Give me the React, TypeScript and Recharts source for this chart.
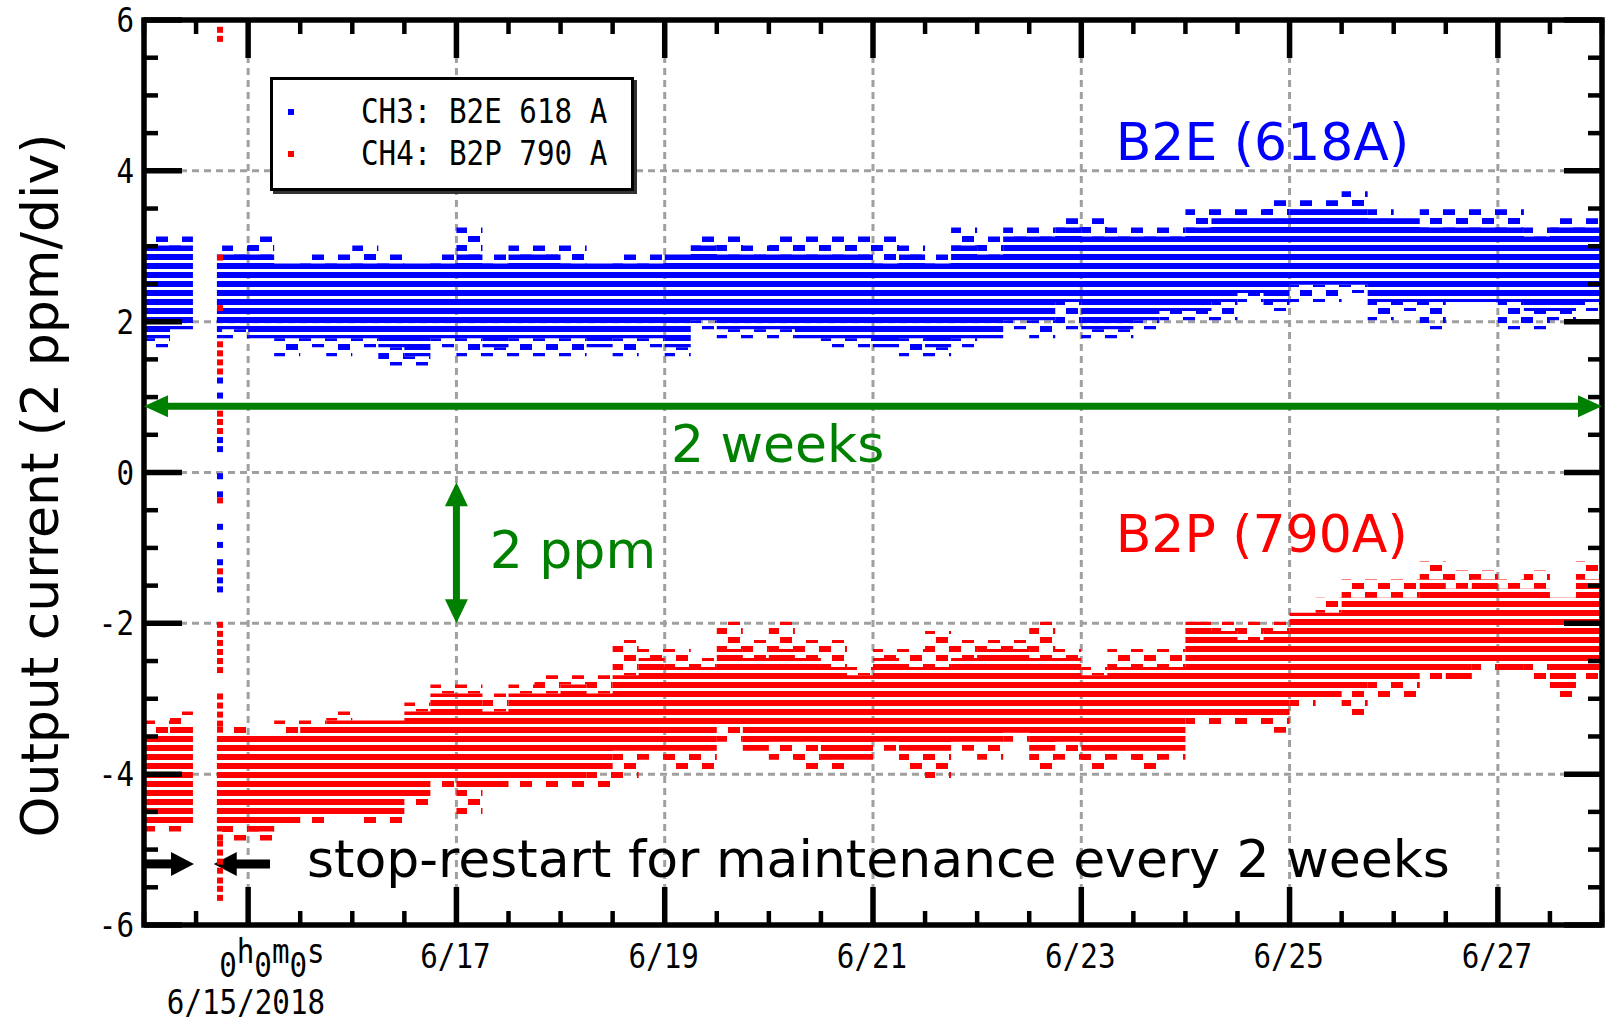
import React from 'react';
import {
  ComposedChart, Area, Scatter, XAxis, YAxis, CartesianGrid,
  ReferenceLine, ReferenceArea, ReferenceDot, Legend,
} from 'recharts';

// ---------- layout ----------
const CHART_W = 1606;
const CHART_H = 1021;
const PLOT_TOP = 20;
const X_AXIS_H = 96;
const Y_AXIS_W = 144;
const RIGHT_GAP = 4;
const PLOT_BOTTOM = CHART_H - X_AXIS_H;
const PLOT_RIGHT = CHART_W - RIGHT_GAP;

const BLUE = '#0000ff';
const RED = '#ff0000';
const GREEN = '#008000';
const GRID = '#a0a0a0';
const MONO = "'DejaVu Sans Mono', 'Liberation Mono', monospace";
const SANS = "'DejaVu Sans', Verdana, sans-serif";
const ROW_HALF = 0.04; // half height of one plotted sample (ppm)

// ---------- axes ----------
const X_DOMAIN = [0, 14];
const Y_DOMAIN = [-6, 6];
const X_TICKS = [0, 0.5, 1, 1.5, 2, 2.5, 3, 3.5, 4, 4.5, 5, 5.5, 6, 6.5, 7, 7.5, 8, 8.5, 9, 9.5, 10, 10.5, 11, 11.5, 12, 12.5, 13, 13.5, 14];
const X_MAJOR = [1, 3, 5, 7, 9, 11, 13];
const X_MAJOR_LABELS = ['6/15/2018', '6/17', '6/19', '6/21', '6/23', '6/25', '6/27'];
const Y_TICKS = [-6, -5.5, -5, -4.5, -4, -3.5, -3, -2.5, -2, -1.5, -1, -0.5, 0, 0.5, 1, 1.5, 2, 2.5, 3, 3.5, 4, 4.5, 5, 5.5, 6];
const Y_MAJOR = [-6, -4, -2, 0, 2, 4, 6];
const GRID_X = [1, 3, 5, 7, 9, 11, 13];
const GRID_Y = [-4, -2, 0, 2, 4];

// ---------- data (days since 6/14 0h; values in ppm) ----------
const DAYS = [0, 0.25, 0.47, 0.58, 0.7, 0.75, 1, 1.25, 1.5, 1.75, 2, 2.25, 2.5, 2.75, 3, 3.25, 3.5, 3.75, 4, 4.25, 4.5, 4.75, 5, 5.25, 5.5, 5.75, 6, 6.25, 6.5, 6.75, 7, 7.25, 7.5, 7.75, 8, 8.25, 8.5, 8.75, 9, 9.25, 9.5, 9.75, 10, 10.25, 10.5, 10.75, 11, 11.25, 11.5, 11.75, 12, 12.25, 12.5, 12.75, 13, 13.25, 13.5, 13.75, 14];

const B2E_OUTER_HI = [3.09, 3.09, 3.09, null,
  2.85, 2.97, 3.09, 2.73, 2.85, 2.85, 2.97, 2.85, 2.73, 2.85,
  3.21, 2.85, 2.97, 2.97, 2.97, 2.73, 2.85, 2.85, 2.85, 3.09,
  3.09, 2.97, 3.09, 3.09, 3.09, 3.09, 3.09, 2.97, 2.85, 3.21,
  3.09, 3.21, 3.21, 3.33, 3.33, 3.21, 3.21, 3.21, 3.45, 3.45,
  3.45, 3.57, 3.57, 3.57, 3.69, 3.45, 3.33, 3.45, 3.45, 3.45,
  3.45, 3.21, 3.33, 3.33, 3.33];
const B2E_CORE_HI = [2.97, 2.97, 2.97, null,
  2.85, 2.85, 2.85, 2.73, 2.73, 2.73, 2.73, 2.73, 2.73, 2.73,
  2.85, 2.73, 2.85, 2.85, 2.73, 2.73, 2.73, 2.73, 2.85, 2.97,
  2.85, 2.85, 2.85, 2.85, 2.85, 2.85, 2.73, 2.85, 2.73, 2.97,
  2.85, 3.09, 3.09, 3.21, 3.09, 3.09, 3.09, 3.09, 3.21, 3.33,
  3.33, 3.33, 3.45, 3.45, 3.45, 3.33, 3.33, 3.21, 3.21, 3.21,
  3.21, 3.09, 3.21, 3.21, 3.21];
const B2E_CORE_LO = [1.82, 1.94, 1.94, null,
  1.82, 1.94, 1.82, 1.82, 1.82, 1.82, 1.82, 1.70, 1.58, 1.82,
  1.82, 1.70, 1.82, 1.82, 1.82, 1.70, 1.82, 1.82, 1.70, 2.06,
  1.94, 1.94, 1.94, 1.82, 1.82, 1.82, 1.70, 1.82, 1.70, 1.82,
  1.82, 2.06, 2.06, 2.30, 1.94, 1.94, 2.06, 2.18, 2.18, 2.30,
  2.42, 2.30, 2.53, 2.53, 2.53, 2.30, 2.30, 2.30, 2.30, 2.30,
  2.30, 2.18, 2.18, 2.30, 2.30];
const B2E_OUTER_LO = [1.70, 1.94, 1.94, null,
  1.82, 1.82, 1.82, 1.58, 1.70, 1.58, 1.70, 1.46, 1.46, 1.70,
  1.58, 1.58, 1.58, 1.58, 1.58, 1.70, 1.58, 1.70, 1.58, 1.94,
  1.82, 1.82, 1.82, 1.82, 1.70, 1.70, 1.70, 1.58, 1.58, 1.70,
  1.82, 1.94, 1.82, 1.94, 1.82, 1.82, 1.94, 2.06, 2.06, 2.06,
  2.30, 2.18, 2.30, 2.30, 2.42, 2.06, 2.18, 1.94, 2.30, 2.30,
  1.94, 1.94, 2.06, 2.18, 2.18];

const B2P_OUTER_HI = [-3.33, -3.21, -3.21, null,
  -3.53, -3.41, -3.53, -3.33, -3.33, -3.21, -3.33, -3.33, -3.09, -2.85,
  -2.85, -2.97, -2.85, -2.73, -2.73, -2.73, -2.26, -2.38, -2.38, -2.50,
  -2.02, -2.26, -2.02, -2.26, -2.26, -2.62, -2.38, -2.38, -2.14, -2.26,
  -2.26, -2.26, -2.02, -2.38, -2.62, -2.38, -2.38, -2.38, -2.02, -2.02,
  -2.02, -2.02, -1.90, -1.70, -1.46, -1.46, -1.46, -1.22, -1.34, -1.34,
  -1.46, -1.34, -1.70, -1.22, -1.22];
const B2P_CORE_HI = [-3.53, -3.41, -3.41, null,
  -3.53, -3.53, -3.53, -3.53, -3.41, -3.33, -3.33, -3.33, -3.21, -2.97,
  -2.97, -3.21, -2.97, -2.97, -2.85, -2.97, -2.73, -2.50, -2.62, -2.62,
  -2.38, -2.50, -2.38, -2.50, -2.62, -2.73, -2.50, -2.62, -2.62, -2.50,
  -2.38, -2.38, -2.50, -2.50, -2.73, -2.62, -2.62, -2.62, -2.02, -2.14,
  -2.26, -2.14, -1.90, -1.90, -1.70, -1.70, -1.70, -1.46, -1.58, -1.46,
  -1.58, -1.58, -1.70, -1.46, -1.46];
const B2P_CORE_LO = [-4.61, -4.61, -4.61, null,
  -4.72, -4.61, -4.72, -4.61, -4.49, -4.49, -4.49, -4.49, -4.25, -4.01,
  -4.13, -4.13, -4.01, -4.01, -4.01, -3.89, -3.65, -3.65, -3.65, -3.65,
  -3.33, -3.65, -3.53, -3.53, -3.77, -3.77, -3.53, -3.65, -3.65, -3.53,
  -3.53, -3.41, -3.65, -3.53, -3.65, -3.65, -3.65, -3.65, -3.21, -3.21,
  -3.21, -3.21, -2.97, -2.97, -2.85, -2.73, -2.73, -2.62, -2.73, -2.50,
  -2.62, -2.50, -2.85, -2.62, -2.62];
const B2P_OUTER_LO = [-4.72, -4.72, -4.72, null,
  -4.72, -4.84, -4.84, -4.61, -4.61, -4.49, -4.61, -4.61, -4.37, -4.13,
  -4.49, -4.13, -4.13, -4.13, -4.13, -4.13, -4.01, -3.77, -3.89, -3.89,
  -3.53, -3.65, -3.77, -3.89, -3.89, -3.77, -3.65, -3.89, -4.01, -3.65,
  -3.77, -3.53, -3.89, -3.77, -3.89, -3.77, -3.89, -3.77, -3.33, -3.33,
  -3.33, -3.41, -3.09, -2.97, -3.21, -2.97, -2.97, -2.73, -2.73, -2.62,
  -2.62, -2.73, -2.97, -2.73, -2.73];

// samples recorded right at the restart (single column)
const RESTART_DAY = 0.73;
const B2E_RESTART = [1.22, 1.02, 0.43, 0.31, -0.05, -0.29, -0.72, -0.96, -1.19, -1.43, -1.55];
const B2P_RESTART = [5.87, 5.75, 2.85, 2.18, 1.70, 1.58, 1.46, 1.34, 0.78, 0.67, 0.55, -0.37, -1.31,
  -2.02, -2.14, -2.26, -2.38, -2.50, -2.62, -2.97, -3.09, -3.21, -3.33, -3.41,
  -4.84, -4.92, -5.04, -5.16, -5.28, -5.41, -5.52, -5.64];

// ---------- annotations ----------
const ANNOTATIONS = [
  { day: 9.33, value: 4.14, text: 'B2E (618A)', color: BLUE },
  { day: 9.33, value: -1.06, text: 'B2P (790A)', color: RED },
  { day: 5.06, value: 0.14, text: '2 weeks', color: GREEN },
  { day: 3.32, value: -1.27, text: '2 ppm', color: GREEN },
  { day: 1.565, value: -5.37, text: 'stop-restart for maintenance every 2 weeks', color: '#000' },
];
const WEEKS_ARROW = { y: 0.88, from: 0, to: 14 };
const PPM_ARROW = { x: 3, from: -0.13, to: -2.0 };
const STOP_ARROW = { y: -5.19, from: 0, to: 0.48 };
const RESTART_ARROW = { y: -5.19, from: 1.21, to: 0.67 };

const LEGEND_ITEMS = [
  { label: 'CH3: B2E 618 A', color: BLUE },
  { label: 'CH4: B2P 790 A', color: RED },
];

// ---------- derived table ----------
const rng = (lo: number | null, hi: number | null, dlo: number, dhi: number) =>
  lo == null || hi == null ? null : [lo + dlo, hi + dhi];

const TABLE = DAYS.map((day, i) => ({
  day,
  bUp: rng(B2E_CORE_HI[i], B2E_OUTER_HI[i], ROW_HALF, ROW_HALF),
  bCore: rng(B2E_CORE_LO[i], B2E_CORE_HI[i], -ROW_HALF, ROW_HALF),
  bLow: rng(B2E_OUTER_LO[i], B2E_CORE_LO[i], -ROW_HALF, -ROW_HALF),
  rUp: rng(B2P_CORE_HI[i], B2P_OUTER_HI[i], ROW_HALF, ROW_HALF),
  rCore: rng(B2P_CORE_LO[i], B2P_CORE_HI[i], -ROW_HALF, ROW_HALF),
  rLow: rng(B2P_OUTER_LO[i], B2P_CORE_LO[i], -ROW_HALF, -ROW_HALF),
}));
const B2E_RESTART_PTS = B2E_RESTART.map((v) => ({ day: RESTART_DAY, v }));
const B2P_RESTART_PTS = B2P_RESTART.map((v) => ({ day: RESTART_DAY, v }));

// ---------- pieces ----------
const MonoText = ({ x, y, anchor = 'middle', children, size = 34 }: any) => (
  <text
    transform={`translate(${x},${y}) scale(0.86,1)`}
    textAnchor={anchor}
    fontFamily={MONO}
    fontSize={size}
    fill="#000"
  >
    {children}
  </text>
);

const XTick = (props: any) => {
  const { x, y, payload } = props;
  const v = payload.value;
  const mi = X_MAJOR.indexOf(v);
  const major = mi >= 0;
  const len = major ? 38 : 14;
  const sw = major ? 5.5 : 4.5;
  return (
    <g>
      <line x1={x} x2={x} y1={y} y2={y - len} stroke="#000" strokeWidth={sw} />
      <line x1={x} x2={x} y1={PLOT_TOP} y2={PLOT_TOP + len} stroke="#000" strokeWidth={sw} />
      {major && mi === 0 && (
        <g>
          <text
            transform={`translate(${x - 29},${y + 52}) scale(0.86,1)`}
            fontFamily={MONO}
            fontSize={34}
            fill="#000"
          >
            <tspan>0</tspan>
            <tspan dy={-14}>h</tspan>
            <tspan dy={14}>0</tspan>
            <tspan dy={-14}>m</tspan>
            <tspan dy={14}>0</tspan>
            <tspan dy={-14}>s</tspan>
          </text>
          <MonoText x={x + 77} y={y + 89} anchor="end">{X_MAJOR_LABELS[mi]}</MonoText>
        </g>
      )}
      {major && mi > 0 && <MonoText x={x - 1} y={y + 43}>{X_MAJOR_LABELS[mi]}</MonoText>}
    </g>
  );
};

const YTick = (props: any) => {
  const { x, y, payload } = props;
  const v = payload.value;
  const major = Y_MAJOR.indexOf(v) >= 0;
  const len = major ? 38 : 14;
  const sw = major ? 5.5 : 4.5;
  return (
    <g>
      <line x1={x} x2={x + len} y1={y} y2={y} stroke="#000" strokeWidth={sw} />
      <line x1={PLOT_RIGHT} x2={PLOT_RIGHT - len} y1={y} y2={y} stroke="#000" strokeWidth={sw} />
      {major && <MonoText x={x - 10} y={y + 12} anchor="end">{String(v)}</MonoText>}
    </g>
  );
};

const Square = (props: any) => {
  const { cx, cy, fill } = props;
  if (cx == null || cy == null) return null;
  return <rect x={cx - 3} y={cy - 3} width={6} height={6} fill={fill} />;
};

const makeArrow = (color: string, shaft: number, headLen: number, headW: number, double: boolean) =>
  (p: any) => {
    const { x1, y1, x2, y2 } = p;
    const dx = x2 - x1;
    const dy = y2 - y1;
    const L = Math.hypot(dx, dy) || 1;
    const ux = dx / L;
    const uy = dy / L;
    const nx = -uy;
    const ny = ux;
    const head = (tx: number, ty: number, sx: number, sy: number) => {
      const bx = tx - sx * headLen;
      const by = ty - sy * headLen;
      return `${tx},${ty} ${bx + nx * headW / 2},${by + ny * headW / 2} ${bx - nx * headW / 2},${by - ny * headW / 2}`;
    };
    const sx0 = double ? x1 + ux * (headLen - 2) : x1;
    const sy0 = double ? y1 + uy * (headLen - 2) : y1;
    return (
      <g>
        <line x1={sx0} y1={sy0} x2={x2 - ux * (headLen - 2)} y2={y2 - uy * (headLen - 2)} stroke={color} strokeWidth={shaft} />
        <polygon points={head(x2, y2, ux, uy)} fill={color} />
        {double && <polygon points={head(x1, y1, -ux, -uy)} fill={color} />}
      </g>
    );
  };

const LegendBox = () => (
  <div
    style={{
      position: 'relative',
      width: 364,
      height: 114,
      boxSizing: 'border-box',
      border: '3px solid #000',
      background: '#fff',
      boxShadow: '3px 3px 0 #333',
    }}
  >
    <svg width={358} height={108} style={{ position: 'absolute', left: 0, top: 0 }}>
      {LEGEND_ITEMS.map((it, i) => (
        <g key={it.label}>
          <rect x={15} y={29 + i * 42} width={6} height={6} fill={it.color} />
          <text
            transform={`translate(${88},${43 + i * 42}) scale(0.86,1)`}
            fontFamily={MONO}
            fontSize={34}
            fill="#000"
            style={{ whiteSpace: 'pre' }}
          >
            {it.label}
          </text>
        </g>
      ))}
    </svg>
  </div>
);

const YTitle = (props: any) => {
  const vb = props.viewBox || { x: 0, y: PLOT_TOP, width: Y_AXIS_W, height: PLOT_BOTTOM - PLOT_TOP };
  const cx = vb.x + 58;
  const cy = vb.y + vb.height / 2 + 13;
  return (
    <text
      transform={`rotate(-90, ${cx}, ${cy})`}
      x={cx}
      y={cy}
      textAnchor="middle"
      fontFamily={SANS}
      fontSize={52}
      fill="#000"
    >
      Output current (2 ppm/div)
    </text>
  );
};

export default function App() {
  return (
    <div style={{ position: 'absolute', left: 0, top: 0, width: CHART_W, height: CHART_H, background: '#fff' }}>
      <ComposedChart
        width={CHART_W}
        height={CHART_H}
        data={TABLE}
        margin={{ top: PLOT_TOP, right: RIGHT_GAP, bottom: 0, left: 0 }}
      >
        <defs>
          <pattern id="pBlueCore" patternUnits="userSpaceOnUse" x={0} y={2} width={16} height={9}>
            <rect x={0} y={0} width={16} height={6} fill={BLUE} />
          </pattern>
          <pattern id="pBlueFringe" patternUnits="userSpaceOnUse" x={0} y={2} width={26} height={18}>
            <rect x={0} y={0} width={12} height={6} fill={BLUE} />
            <rect x={13} y={9} width={12} height={6} fill={BLUE} />
          </pattern>
          <pattern id="pRedCore" patternUnits="userSpaceOnUse" x={0} y={7} width={16} height={9}>
            <rect x={0} y={0} width={16} height={6} fill={RED} />
          </pattern>
          <pattern id="pRedFringe" patternUnits="userSpaceOnUse" x={0} y={7} width={26} height={18}>
            <rect x={0} y={0} width={12} height={6} fill={RED} />
            <rect x={13} y={9} width={12} height={6} fill={RED} />
          </pattern>
        </defs>

        <CartesianGrid
          stroke={GRID}
          strokeWidth={3}
          strokeDasharray="7 5"
          horizontalValues={GRID_Y}
          verticalValues={GRID_X}
        />

        <XAxis
          type="number"
          dataKey="day"
          domain={X_DOMAIN}
          ticks={X_TICKS}
          interval={0}
          allowDataOverflow
          height={X_AXIS_H}
          tickSize={0}
          tickMargin={0}
          tickLine={false}
          axisLine={false}
          tick={(p: any) => <XTick {...p} />}
        />
        <YAxis
          type="number"
          domain={Y_DOMAIN}
          ticks={Y_TICKS}
          interval={0}
          allowDataOverflow
          width={Y_AXIS_W}
          tickSize={0}
          tickMargin={0}
          tickLine={false}
          axisLine={false}
          tick={(p: any) => <YTick {...p} />}
          label={(p: any) => <YTitle {...p} />}
        />

        <Area dataKey="bUp" type="stepAfter" stroke="none" fill="url(#pBlueFringe)" fillOpacity={1} isAnimationActive={false} dot={false} activeDot={false} />
        <Area dataKey="bLow" type="stepAfter" stroke="none" fill="url(#pBlueFringe)" fillOpacity={1} isAnimationActive={false} dot={false} activeDot={false} />
        <Area dataKey="bCore" type="stepAfter" stroke="none" fill="url(#pBlueCore)" fillOpacity={1} isAnimationActive={false} dot={false} activeDot={false} />
        <Area dataKey="rUp" type="stepAfter" stroke="none" fill="url(#pRedFringe)" fillOpacity={1} isAnimationActive={false} dot={false} activeDot={false} />
        <Area dataKey="rLow" type="stepAfter" stroke="none" fill="url(#pRedFringe)" fillOpacity={1} isAnimationActive={false} dot={false} activeDot={false} />
        <Area dataKey="rCore" type="stepAfter" stroke="none" fill="url(#pRedCore)" fillOpacity={1} isAnimationActive={false} dot={false} activeDot={false} />

        <Scatter data={B2E_RESTART_PTS} dataKey="v" fill={BLUE} shape={(p: any) => <Square {...p} />} isAnimationActive={false} />
        <Scatter data={B2P_RESTART_PTS} dataKey="v" fill={RED} shape={(p: any) => <Square {...p} />} isAnimationActive={false} />

        <ReferenceLine
          segment={[{ x: WEEKS_ARROW.from, y: WEEKS_ARROW.y }, { x: WEEKS_ARROW.to, y: WEEKS_ARROW.y }]}
          shape={makeArrow(GREEN, 7, 24, 22, true)}
          ifOverflow="visible"
        />
        <ReferenceLine
          segment={[{ x: PPM_ARROW.x, y: PPM_ARROW.from }, { x: PPM_ARROW.x, y: PPM_ARROW.to }]}
          shape={makeArrow(GREEN, 7, 24, 23, true)}
          ifOverflow="visible"
        />
        <ReferenceLine
          segment={[{ x: STOP_ARROW.from, y: STOP_ARROW.y }, { x: STOP_ARROW.to, y: STOP_ARROW.y }]}
          shape={makeArrow('#000', 9, 23, 24, false)}
          ifOverflow="visible"
        />
        <ReferenceLine
          segment={[{ x: RESTART_ARROW.from, y: RESTART_ARROW.y }, { x: RESTART_ARROW.to, y: RESTART_ARROW.y }]}
          shape={makeArrow('#000', 9, 23, 24, false)}
          ifOverflow="visible"
        />

        {ANNOTATIONS.map((a) => (
          <ReferenceDot
            key={a.text}
            x={a.day}
            y={a.value}
            ifOverflow="visible"
            shape={(p: any) => (
              <text x={p.cx} y={p.cy} fill={a.color} fontFamily={SANS} fontSize={52}>
                {a.text}
              </text>
            )}
          />
        ))}

        <ReferenceArea
          x1={X_DOMAIN[0]}
          x2={X_DOMAIN[1]}
          y1={Y_DOMAIN[0]}
          y2={Y_DOMAIN[1]}
          fill="none"
          fillOpacity={0}
          stroke="#000"
          strokeWidth={5.5}
          ifOverflow="visible"
        />

        <Legend
          layout="horizontal"
          verticalAlign="middle"
          align="center"
          wrapperStyle={{ left: 270, top: 77, width: 368, height: 118 }}
          content={() => <LegendBox />}
        />
      </ComposedChart>
    </div>
  );
}
